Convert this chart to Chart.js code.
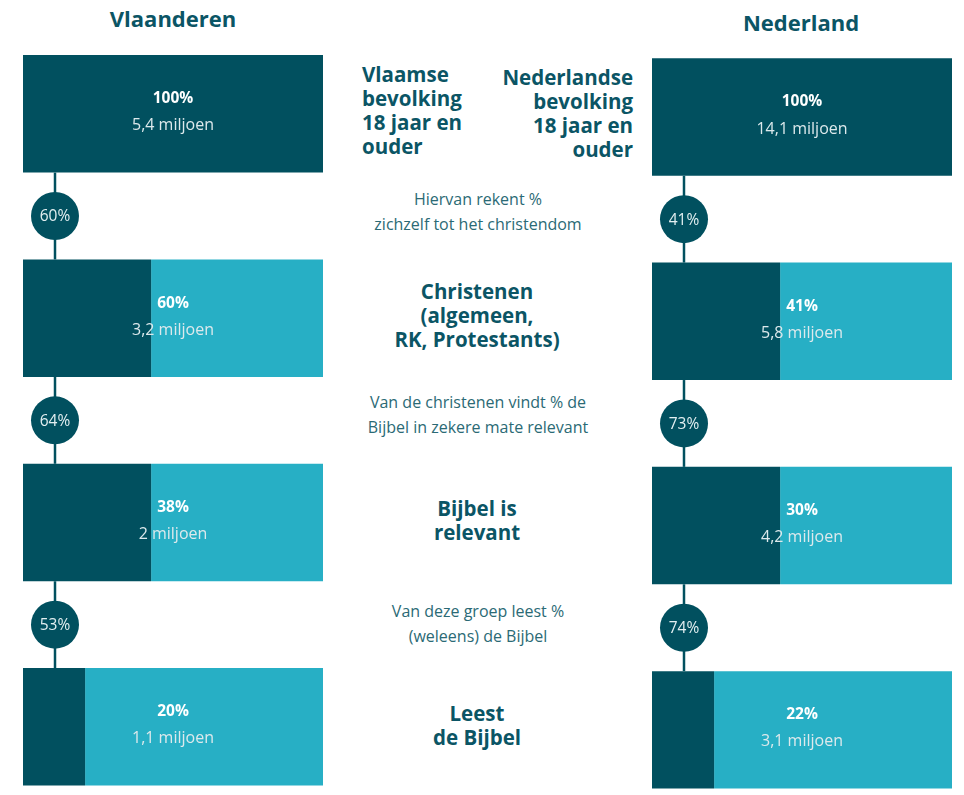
<!DOCTYPE html>
<html>
<head>
<meta charset="utf-8">
<script src="https://cdn.jsdelivr.net/npm/chart.js@4.4.1/dist/chart.umd.min.js"></script>
<style>
  body { margin: 0; width: 964px; height: 795px; overflow: hidden; background: #fff;
         font-family: "Open Sans", sans-serif; position: relative; }
  .abs { position: absolute; }
  .title { font-weight: 700; font-size: 22px; color: #0b5565; transform: translate(-50%, -50%); white-space: nowrap; }
  .big { font-weight: 700; font-size: 20.5px; line-height: 24px; color: #0b5565; white-space: nowrap; }
  .small { font-size: 16px; line-height: 25px; color: #2b6a75; white-space: nowrap; text-align: center;
           transform: translate(-50%, -50%); }
  .mid { text-align: center; transform: translate(-50%, -50%); }
</style>
</head>
<body>
<div class="abs title" style="left:173px;top:18px">Vlaanderen</div>
<div class="abs title" style="left:801px;top:22px">Nederland</div>

<div class="abs big" style="left:362px;top:62px">Vlaamse<br>bevolking<br>18 jaar en<br>ouder</div>
<div class="abs big" style="right:331px;top:65px;text-align:right">Nederlandse<br>bevolking<br>18 jaar en<br>ouder</div>

<div class="abs small" style="left:478px;top:212px">Hiervan rekent %<br>zichzelf tot het christendom</div>
<div class="abs big mid" style="left:477px;top:315px">Christenen<br>(algemeen,<br>RK, Protestants)</div>
<div class="abs small" style="left:478px;top:415px">Van de christenen vindt % de<br>Bijbel in zekere mate relevant</div>
<div class="abs big mid" style="left:477px;top:520px">Bijbel is<br>relevant</div>
<div class="abs small" style="left:478px;top:624px">Van deze groep leest %<br>(weleens) de Bijbel</div>
<div class="abs big mid" style="left:477px;top:725px">Leest<br>de Bijbel</div>

<canvas id="chartVL" class="abs" width="346" height="829" style="left:0;top:0"></canvas>
<canvas id="chartNL" class="abs" width="335" height="832" style="left:629px;top:0"></canvas>

<script>
// stappen in de trechter
const stages = ['Volwassenen', 'Christenen', 'Bijbel relevant', 'Leest de Bijbel'];

// Vlaanderen
const vlShare = [100, 60, 38, 20];
const vlMillions = [5.4, 3.2, 2, 1.1];
const vlDark = [100, 42.7, 42.7, 20.7];
const vlLight = [0, 57.3, 57.3, 79.3];
const vlRates = [60, 64, 53];

// Nederland
const nlShare = [100, 41, 30, 22];
const nlMillions = [14.1, 5.8, 4.2, 3.1];
const nlDark = [100, 42.7, 42.7, 20.7];
const nlLight = [0, 57.3, 57.3, 79.3];
const nlRates = [41, 73, 74];

const darkTeal = '#01505f';
const lightTeal = '#27afc5';

function fmtMiljoen(v) {
    return String(v).replace('.', ',') + ' miljoen';
}

// tekst in de balken + lijnen en bolletjes ertussen
const funnelPlugin = {
    id: 'funnel',
    afterDatasetsDraw(chart, args, opts) {
        const ctx = chart.ctx;
        const bars = chart.getDatasetMeta(0).data;
        const xs = chart.scales.x;
        const cx = xs.getPixelForValue(50);
        const lineX = chart.chartArea.left + 32;

        ctx.save();
        // verbindingen
        for (let i = 0; i < opts.rates.length; i++) {
            const a = bars[i], b = bars[i + 1];
            const y0 = a.y + a.height / 2;
            const y1 = b.y - b.height / 2;
            ctx.strokeStyle = darkTeal;
            ctx.lineWidth = 2.5;
            ctx.beginPath();
            ctx.moveTo(lineX, y0);
            ctx.lineTo(lineX, y1);
            ctx.stroke();

            const my = (y0 + y1) / 2;
            ctx.fillStyle = darkTeal;
            ctx.beginPath();
            ctx.arc(lineX, my, 24, 0, Math.PI * 2);
            ctx.fill();
            ctx.fillStyle = '#e3eff1';
            ctx.font = '15.5px "Open Sans"';
            ctx.textAlign = 'center';
            ctx.textBaseline = 'middle';
            ctx.fillText(opts.rates[i] + '%', lineX, my + 1);
        }

        // labels in de balken
        bars.forEach((bar, i) => {
            ctx.textAlign = 'center';
            ctx.textBaseline = 'middle';
            ctx.fillStyle = '#ffffff';
            ctx.font = 'bold 15.5px "Open Sans"';
            ctx.fillText(opts.share[i] + '%', cx, bar.y - 15);
            ctx.fillStyle = '#dde9ec';
            ctx.font = '16px "Open Sans"';
            ctx.fillText(fmtMiljoen(opts.millions[i]), cx, bar.y + 12);
        });
        ctx.restore();
    }
};

function makeChart(id, dark, light, share, millions, rates, padding) {
    return new Chart(document.getElementById(id), {
        type: 'bar',
        data: {
            labels: stages,
            datasets: [
                { data: dark, backgroundColor: darkTeal, borderWidth: 0,
                  barPercentage: 1, categoryPercentage: 0.575 },
                { data: light, backgroundColor: lightTeal, borderWidth: 0,
                  barPercentage: 1, categoryPercentage: 0.575 }
            ]
        },
        options: {
            responsive: false,
            animation: false,
            indexAxis: 'y',
            layout: { padding: padding },
            scales: {
                x: { display: false, stacked: true, min: 0, max: 100 },
                y: { display: false, stacked: true }
            },
            plugins: {
                legend: { display: false },
                tooltip: { enabled: false },
                funnel: { share: share, millions: millions, rates: rates }
            }
        },
        plugins: [funnelPlugin]
    });
}

makeChart('chartVL', vlDark, vlLight, vlShare, vlMillions, vlRates,
          { left: 23, right: 23, top: 11.7, bottom: 0 });
makeChart('chartNL', nlDark, nlLight, nlShare, nlMillions, nlRates,
          { left: 23, right: 12, top: 14.9, bottom: 0 });
</script>
</body>
</html>
